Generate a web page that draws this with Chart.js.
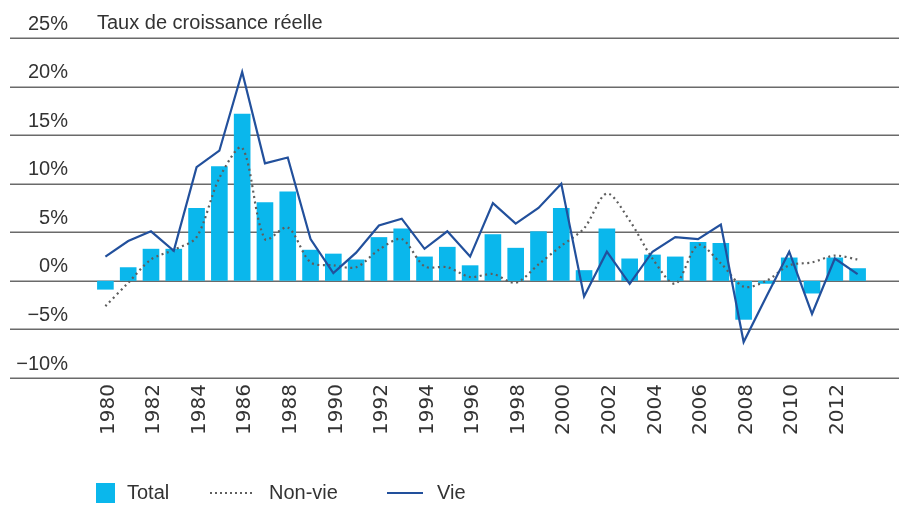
<!DOCTYPE html>
<html>
<head>
<meta charset="utf-8">
<script src="https://cdn.jsdelivr.net/npm/chart.js@4/dist/chart.umd.min.js"></script>
<style>
  html, body { margin: 0; padding: 0; background: #ffffff; }
  #wrap { width: 899px; height: 505px; position: relative; }
</style>
</head>
<body>
<div id="wrap"><canvas id="c" width="899" height="505"></canvas></div>
<script>
const years = [1980,1981,1982,1983,1984,1985,1986,1987,1988,1989,1990,1991,1992,1993,1994,1995,1996,1997,1998,1999,2000,2001,2002,2003,2004,2005,2006,2007,2008,2009,2010,2011,2012,2013];
const total  = [-0.9,1.4,3.3,3.3,7.5,11.8,17.2,8.1,9.2,3.2,2.8,2.2,4.5,5.4,2.5,3.5,1.6,4.8,3.4,5.1,7.5,1.1,5.4,2.3,2.7,2.5,4.0,3.9,-4.0,-0.3,2.4,-1.3,2.4,1.3];
const nonVie = [-2.6,-0.2,2.2,3.2,4.5,10.6,13.7,4.3,5.5,1.9,1.6,1.4,3.2,4.3,1.5,1.4,0.4,0.7,-0.2,1.7,3.6,5.4,9.0,6.2,2.3,-0.3,3.7,1.8,-0.6,0.0,1.6,1.9,2.6,2.2];
const vie    = [2.5,4.1,5.1,3.1,11.7,13.4,21.5,12.1,12.7,4.3,0.8,2.9,5.7,6.4,3.3,5.1,2.5,8.0,5.9,7.5,10.0,-1.6,3.0,-0.3,3.0,4.5,4.3,5.8,-6.3,-1.6,3.0,-3.4,2.3,0.7];
const seriesNames = ['Total', 'Non-vie', 'Vie'];
const chartTitle = 'Taux de croissance réelle';
const yTicks = [-10,-5,0,5,10,15,20,25];

const CYAN = '#0ab7ec';
const BLUE = '#22509c';
const GREY = '#5e5e5e';
const FONT = '"Liberation Sans", Arial, sans-serif';

const gridPlugin = {
  id: 'fullGrid',
  beforeDatasetsDraw(chart) {
    const ctx = chart.ctx, ys = chart.scales.y;
    ctx.save();
    ctx.strokeStyle = '#6a6a6a';
    ctx.lineWidth = 1.5;
    ys.ticks.forEach(t => {
      const y = Math.round(ys.getPixelForValue(t.value)) + 0.25;
      ctx.beginPath();
      ctx.moveTo(10, y);
      ctx.lineTo(chart.width, y);
      ctx.stroke();
    });
    ctx.restore();
  }
};

const decorPlugin = {
  id: 'decor',
  afterDraw(chart) {
    const ctx = chart.ctx;
    ctx.save();
    ctx.fillStyle = '#333';
    ctx.font = '20px ' + FONT;
    ctx.textBaseline = 'middle';
    ctx.textAlign = 'left';
    ctx.fillText(chartTitle, 97, 23);

    // legend
    const ds = chart.data.datasets;
    const ly = 493;
    ctx.fillStyle = ds[0].backgroundColor;
    ctx.fillRect(96, 483, 19, 20);
    ctx.fillStyle = '#333';
    ctx.fillText(ds[0].label, 127, ly);
    ctx.strokeStyle = ds[1].borderColor;
    ctx.lineWidth = 2;
    ctx.setLineDash([2, 3]);
    ctx.beginPath(); ctx.moveTo(210, ly); ctx.lineTo(253, ly); ctx.stroke();
    ctx.setLineDash([]);
    ctx.fillText(ds[1].label, 269, ly);
    ctx.strokeStyle = ds[2].borderColor;
    ctx.lineWidth = 2.2;
    ctx.beginPath(); ctx.moveTo(387, ly); ctx.lineTo(423, ly); ctx.stroke();
    ctx.fillText(ds[2].label, 437, ly);
    ctx.restore();
  }
};

new Chart(document.getElementById('c'), {
  type: 'bar',
  data: {
    labels: years,
    datasets: [
      { type: 'bar', label: seriesNames[0], data: total, backgroundColor: CYAN, borderWidth: 0,
        barPercentage: 0.73, categoryPercentage: 1.0, order: 3 },
      { type: 'line', label: seriesNames[1], data: nonVie, borderColor: GREY, borderWidth: 2.2,
        borderDash: [2, 3.5], pointRadius: 0, tension: 0.3, fill: false, order: 2 },
      { type: 'line', label: seriesNames[2], data: vie, borderColor: BLUE, borderWidth: 2.2,
        pointRadius: 0, tension: 0, fill: false, order: 1 }
    ]
  },
  options: {
    responsive: false,
    animation: false,
    devicePixelRatio: 1,
    layout: { padding: { top: 38, right: 30, bottom: 0, left: 0 } },
    plugins: { legend: { display: false }, title: { display: false }, tooltip: { enabled: false } },
    scales: {
      x: {
        offset: true,
        grid: { display: false, drawTicks: false },
        border: { display: false },
        ticks: {
          autoSkip: false,
          minRotation: 90, maxRotation: 90,
          padding: 6,
          labelOffset: 3,
          color: '#333',
          font: { family: '"DejaVu Sans", sans-serif', size: 20 },
          callback: function(v, i) { const yv = years[i]; return yv % 2 === 0 ? String(yv) : ''; }
        },
        afterFit(scale) { scale.height = 127; }
      },
      y: {
        min: -10, max: 25,
        afterBuildTicks(scale) { scale.ticks = yTicks.map(v => ({ value: v })); },
        grid: { display: false, drawTicks: false },
        border: { display: false },
        ticks: {
          padding: 26,
          labelOffset: -14,
          color: '#333',
          font: { family: FONT, size: 20 },
          callback: v => (v < 0 ? '\u2212' + Math.abs(v) : v) + '%'
        },
        afterFit(scale) { scale.width = 94; }
      }
    }
  },
  plugins: [gridPlugin, decorPlugin]
});
</script>
</body>
</html>
